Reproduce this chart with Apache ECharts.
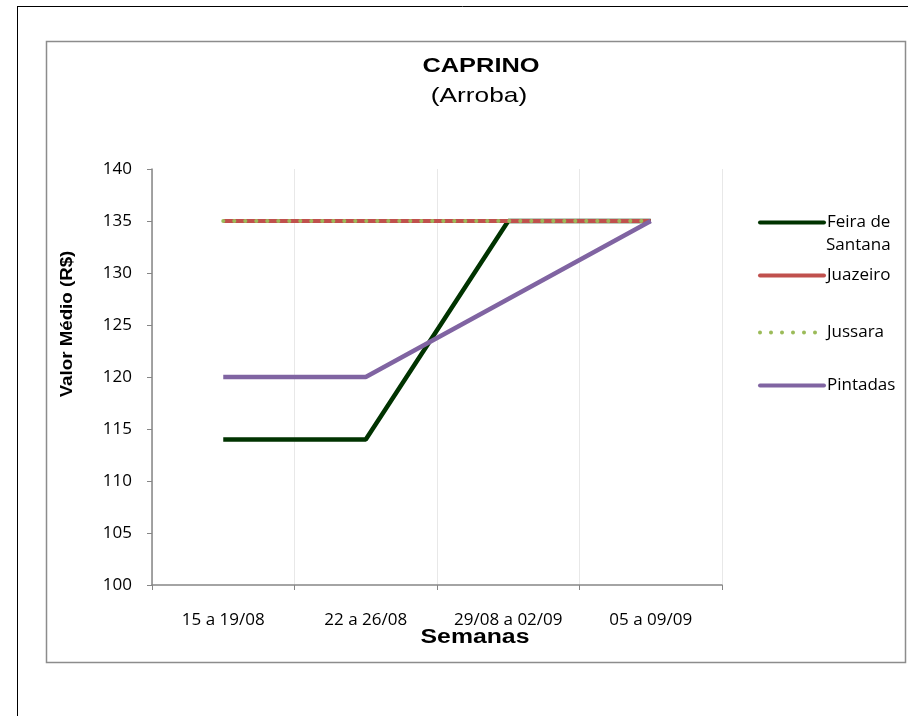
<!DOCTYPE html>
<html><head><meta charset="utf-8">
<script src="https://cdn.jsdelivr.net/npm/echarts@6/dist/echarts.min.js"></script>
<style>html,body{margin:0;padding:0;background:#fff}#c{width:908px;height:716px}</style>
</head><body><div id="c"></div>
<script>
const categories = ['15 a 19/08', '22 a 26/08', '29/08 a 02/09', '05 a 09/09'];
const feiraDeSantana = [114, 114, 135, 135];
const juazeiro = [135, 135, 135, 135];
const jussara = [135, 135, 135, 135];
const pintadas = [120, 120, 127.5, 135];
const yTicks = [100, 105, 110, 115, 120, 125, 130, 135, 140];

const chart = echarts.init(document.getElementById('c'));
const lblFont = '"Open Sans", "Liberation Sans", sans-serif';
const solidIcon = 'path://M2,0 L66,0 A2,2 0 0 1 66,4 L2,4 A2,2 0 0 1 2,0 Z';
let dots = 'path://';
for (let k = 0; k < 6; k++) {
  const x = 11 * k;
  dots += `M${x},2 A2,2 0 1 1 ${x + 4},2 A2,2 0 1 1 ${x},2 Z `;
}
function leg(name, center, icon, width, padLeft) {
  return {
    data: [{ name: name, icon: icon }], left: 753, top: center - 11, orient: 'vertical',
    itemWidth: width, itemHeight: 4, itemGap: 0,
    formatter: n => n === 'Feira de Santana' ? 'Feira de' : n,
    textStyle: { fontFamily: lblFont, fontSize: 17, color: '#000', padding: [0, 0, 0, padLeft] }
  };
}
chart.setOption({
  animation: false,
  backgroundColor: '#fff',
  graphic: [
    { type: 'line', shape: { x1: 17, y1: 6.5, x2: 908, y2: 6.5 }, style: { stroke: '#000', lineWidth: 1 } },
    { type: 'line', shape: { x1: 17.5, y1: 6, x2: 17.5, y2: 716 }, style: { stroke: '#000', lineWidth: 1 } },
    { type: 'rect', shape: { x: 46.5, y: 41.5, width: 859, height: 621 }, style: { fill: 'none', stroke: '#8c8c8c', lineWidth: 1.5 }, z: -1 },
    { type: 'text', x: 481, y: 66, scaleX: 1.27, style: { text: 'CAPRINO', font: 'bold 20px "Liberation Sans", Arial', fill: '#000', align: 'center', verticalAlign: 'middle' } },
    { type: 'text', x: 479, y: 96, scaleX: 1.25, style: { text: '(Arroba)', font: '21px "Liberation Sans", Arial', fill: '#000', align: 'center', verticalAlign: 'middle' } },
    { type: 'text', x: 475, y: 637, scaleX: 1.24, style: { text: 'Semanas', font: 'bold 20px "Liberation Sans", Arial', fill: '#000', align: 'center', verticalAlign: 'middle' } },
    { type: 'text', x: 68, y: 324, rotation: Math.PI / 2, scaleX: 1.17, style: { text: 'Valor Médio (R$)', font: 'bold 16px "Liberation Sans", Arial', fill: '#000', align: 'center', verticalAlign: 'middle' } },
    { type: 'text', left: 826, top: 237, style: { text: 'Santana', font: '17px ' + lblFont, fill: '#000' } }
  ],
  legend: [
    leg('Feira de Santana', 220, solidIcon, 68, -4),
    leg('Juazeiro', 273, solidIcon, 68, -4),
    leg('Jussara', 330, dots, 59, 5),
    leg('Pintadas', 383, solidIcon, 68, -4)
  ],
  grid: { left: 152, right: 186, top: 169, bottom: 131, containLabel: false },
  xAxis: {
    type: 'category', data: categories, boundaryGap: true,
    axisLine: { lineStyle: { color: '#868686', width: 1.5 } },
    axisTick: { show: true, length: 5, lineStyle: { color: '#868686' } },
    axisLabel: { fontFamily: lblFont, fontSize: 17, color: '#000', margin: 27 },
    splitLine: { show: true, lineStyle: { color: '#e8e8e8', width: 1 } }
  },
  yAxis: {
    type: 'value', min: 100, max: 140, interval: 5,
    axisLine: { show: true, lineStyle: { color: '#868686', width: 1.5 } },
    axisTick: { show: true, length: 5, lineStyle: { color: '#868686' } },
    axisLabel: { fontFamily: lblFont, fontSize: 17, color: '#000', margin: 20,
      formatter: v => yTicks.includes(v) ? String(v) : '' },
    splitLine: { show: false }
  },
  series: [
    { name: 'Feira de Santana', type: 'line', data: feiraDeSantana, symbol: 'none', color: '#003300',
      lineStyle: { color: '#003300', width: 4.5 }, z: 2 },
    { name: 'Juazeiro', type: 'line', data: juazeiro, symbol: 'none', color: '#C0504D',
      lineStyle: { color: '#C0504D', width: 4 }, z: 3 },
    { name: 'Jussara', type: 'line', data: jussara, symbol: 'none', color: '#9BBB59',
      lineStyle: { color: '#9BBB59', width: 4, type: [0.1, 10.9], cap: 'round' }, z: 4 },
    { name: 'Pintadas', type: 'line', data: pintadas, symbol: 'none', color: '#8064A2',
      lineStyle: { color: '#8064A2', width: 4.5 }, z: 5 }
  ]
});
</script></body></html>
